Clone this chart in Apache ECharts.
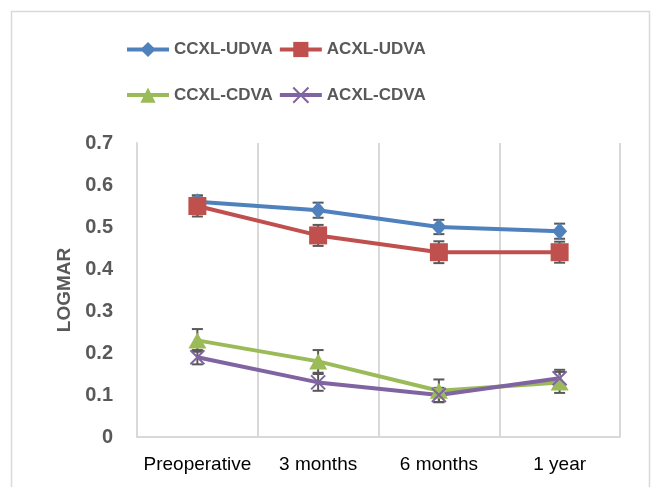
<!DOCTYPE html>
<html><head><meta charset="utf-8">
<script src="https://cdn.jsdelivr.net/npm/echarts@6/dist/echarts.min.js"></script>
<style>html,body{margin:0;padding:0;background:#fff}#c{width:652px;height:487px}</style>
</head><body><div id="c"></div>
<script>
const categories = ['Preoperative', '3 months', '6 months', '1 year'];
const seriesNames = ['CCXL-UDVA', 'ACXL-UDVA', 'CCXL-CDVA', 'ACXL-CDVA'];
const ccxlUdva = [0.56, 0.54, 0.50, 0.49];
const acxlUdva = [0.55, 0.48, 0.44, 0.44];
const ccxlCdva = [0.23, 0.18, 0.11, 0.13];
const acxlCdva = [0.19, 0.13, 0.10, 0.14];
const ccxlUdvaErr = [0.015, 0.018, 0.017, 0.018];
const acxlUdvaErr = [0.025, 0.025, 0.026, 0.025];
const ccxlCdvaErr = [0.027, 0.027, 0.027, 0.025];
const acxlCdvaErr = [0.017, 0.020, 0.017, 0.020];
const yTicks = [0, 0.1, 0.2, 0.3, 0.4, 0.5, 0.6, 0.7];

const values = [ccxlUdva, acxlUdva, ccxlCdva, acxlCdva];
const errs = [ccxlUdvaErr, acxlUdvaErr, ccxlCdvaErr, acxlCdvaErr];
const colors = ['#4F81BD', '#C0504D', '#9BBB59', '#8064A2'];
const symbols = ['diamond', 'rect', 'triangle', 'path://M0,0 L10,10 M10,0 L0,10'];
const symSizes = [[15, 17], 18, [18, 16], 14];

const chart = echarts.init(document.getElementById('c'), null, {renderer: 'canvas'});
const FONT = 'Liberation Sans, Arial, sans-serif';
const series = [];
values.forEach((vals, i) => {
  series.push({
    type: 'custom', name: seriesNames[i] + ' err', z: 1, silent: true,
    data: vals.map((v, k) => [k, v - errs[i][k], v + errs[i][k]]),
    renderItem: function (params, api) {
      const lo = api.coord([api.value(0), api.value(1)]);
      const hi = api.coord([api.value(0), api.value(2)]);
      const hw = 5.5;
      const st = {stroke: '#595959', lineWidth: 2};
      return {type: 'group', children: [
        {type: 'line', shape: {x1: lo[0], y1: lo[1], x2: hi[0], y2: hi[1]}, style: st},
        {type: 'line', shape: {x1: lo[0] - hw, y1: lo[1], x2: lo[0] + hw, y2: lo[1]}, style: st},
        {type: 'line', shape: {x1: hi[0] - hw, y1: hi[1], x2: hi[0] + hw, y2: hi[1]}, style: st}
      ]};
    }
  });
});
values.forEach((vals, i) => {
  const isCross = i === 3;
  series.push({
    type: 'line', name: seriesNames[i], data: vals, z: 3,
    symbol: symbols[i], symbolSize: symSizes[i], showAllSymbol: true,
    lineStyle: {color: colors[i], width: 4},
    itemStyle: isCross ? {color: 'none', borderColor: colors[i], borderWidth: 2} : {color: colors[i], borderWidth: 0},
    emphasis: {disabled: true}
  });
});

const legendText = {fontFamily: FONT, fontSize: 17, fontWeight: 'bold', color: '#595959', width: 93, overflow: 'none'};
const legendCommon = {left: 125, padding: 0, itemWidth: 42, itemHeight: 19, itemGap: 5, textStyle: legendText, selectedMode: false, lineStyle: {width: 4}};
chart.setOption({
  animation: false,
  color: colors,
  graphic: [{type: 'rect', shape: {x: 11.5, y: 11.5, width: 638, height: 500}, style: {fill: 'none', stroke: '#d9d9d9', lineWidth: 1.5}, silent: true}],
  legend: [
    Object.assign({data: [seriesNames[0], seriesNames[1]], top: 41}, legendCommon),
    Object.assign({data: [seriesNames[2], seriesNames[3]], top: 85}, legendCommon)
  ],
  grid: {left: 137, right: 32, top: 143, bottom: 50, containLabel: false},
  xAxis: {
    type: 'category', data: categories, boundaryGap: true,
    axisLine: {lineStyle: {color: '#d9d9d9', width: 2}},
    axisTick: {show: false},
    axisLabel: {fontFamily: FONT, fontSize: 19, color: '#000', margin: 18, interval: 0},
    splitLine: {show: true, interval: 0, lineStyle: {color: '#d9d9d9', width: 2}}
  },
  yAxis: {
    type: 'value', min: yTicks[0], max: yTicks[yTicks.length - 1], interval: 0.1,
    name: 'LOGMAR', nameLocation: 'middle', nameGap: 62, nameRotate: 90,
    nameTextStyle: {fontFamily: FONT, fontSize: 19, fontWeight: 'bold', color: '#595959'},
    axisLine: {show: true, lineStyle: {color: '#d9d9d9', width: 2}},
    axisTick: {show: false},
    splitLine: {show: false},
    axisLabel: {fontFamily: FONT, fontSize: 20, fontWeight: 'bold', color: '#595959', margin: 24,
      formatter: v => String(Math.round(v * 10) / 10)}
  },
  series: series
});
</script></body></html>
